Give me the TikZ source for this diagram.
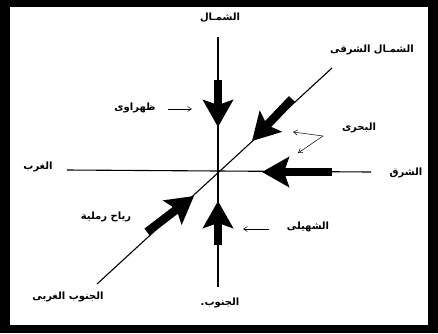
\documentclass[tikz,border=0pt]{standalone}
\usepackage{fontspec}
\usetikzlibrary{arrows.meta}
\newfontfamily\arabicfont[Script=Arabic,BoldFont={DejaVu Sans Bold}]{DejaVu Sans}
\TeXXeTstate=1
\begin{document}
\begin{tikzpicture}[x=1pt,y=-1pt,
  axis/.style={line width=1.1pt,black},
  windarrow/.style={line width=8.5pt,black,-{Stealth[width=30pt,length=27pt,inset=5pt]}},
  pointer/.style={line width=0.5pt,black,-{Straight Barb[length=4pt,width=5pt]}},
  lbl/.style={font=\arabicfont\bfseries\fontsize{10}{12}\selectfont,inner sep=0pt}]
\fill[black] (0,0) rectangle (438,333);
\fill[white] (10,7) rectangle (428,325);
\useasboundingbox (0,0) rectangle (438,333);
% axes
\coordinate (N) at (218,37);
\coordinate (S) at (218,287);
\coordinate (W) at (67,170);
\coordinate (E) at (371,172);
\coordinate (NE) at (332,68);
\coordinate (SW) at (97,284);
\draw[axis] (N) -- (S);
\draw[axis] (W) -- (E);
\draw[axis] (SW) -- (NE);
% wind arrows
\coordinate (nA) at (218,80);  \coordinate (nB) at (218,127);
\coordinate (neA) at (292,99); \coordinate (neB) at (252,141);
\coordinate (eA) at (332,172); \coordinate (eB) at (262,172);
\coordinate (sA) at (218,245); \coordinate (sB) at (218,201);
\coordinate (swA) at (147,232);\coordinate (swB) at (194,196);
\draw[windarrow] (nA) -- (nB);
\draw[windarrow] (neA) -- (neB);
\draw[windarrow] (eA) -- (eB);
\draw[windarrow] (sA) -- (sB);
\draw[windarrow] (swA) -- (swB);
% labels
\node[lbl] (lN) at (220,18) {\beginR الشمـال\endR};
\node[lbl] (lNE) at (372,50) {\beginR الشمـال الشرقى\endR};
\node[lbl] (lW) at (38,167) {\beginR الغرب\endR};
\node[lbl] (lE) at (406,173) {\beginR الشرق\endR};
\node[lbl] (lS) at (220,303) {\beginR الجنوب.\endR};
\node[lbl] (lSW) at (68,297) {\beginR الجنوب الغربى\endR};
\node[lbl] (lZ) at (135,108) {\beginR ظهراوى\endR};
\node[lbl] (lB) at (359,128) {\beginR البحرى\endR};
\node[lbl] (lR) at (106,217) {\beginR رياح رملية\endR};
\node[lbl] (lSh) at (308,227) {\beginR الشهيلى\endR};
% pointers
\coordinate (zA) at (168,109); \coordinate (zB) at (192,109);
\coordinate (bA) at (323,136); \coordinate (b1) at (293,132); \coordinate (b2) at (298,153);
\coordinate (shA) at (269,229); \coordinate (shB) at (243,229);
\draw[pointer] (zA) -- (zB);
\draw[pointer] (bA) -- (b1);
\draw[pointer] (bA) -- (b2);
\draw[pointer] (shA) -- (shB);
\end{tikzpicture}
\end{document}
